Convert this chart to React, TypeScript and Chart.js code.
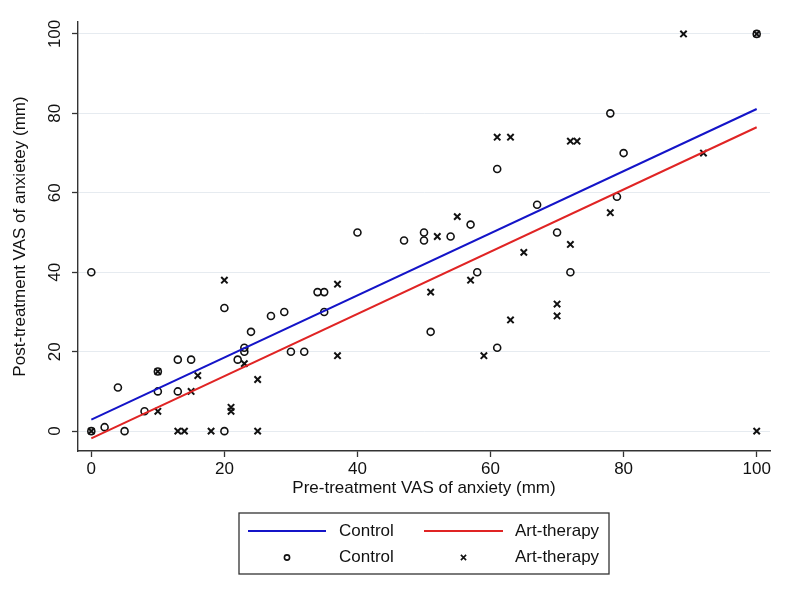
import React, { useEffect, useRef } from "react";
import { Chart, registerables } from "chart.js";

Chart.register(...registerables);

// ---- data ----
const controlX = [0, 0, 2, 4, 5, 8, 10, 10, 13, 13, 15, 20, 20, 22, 23, 23, 24, 27, 29, 30, 32, 34, 35, 35, 40, 47, 50, 50, 51, 54, 57, 58, 61, 61, 67, 70, 72, 78, 79, 80, 100];
const controlY = [0, 40, 1, 11, 0, 5, 10, 15, 10, 18, 18, 0, 31, 18, 20, 21, 25, 29, 30, 20, 20, 35, 35, 30, 50, 48, 50, 48, 25, 49, 52, 40, 21, 66, 57, 50, 40, 80, 59, 70, 100];

const artX = [0, 10, 10, 13, 14, 15, 16, 18, 20, 21, 21, 23, 25, 25, 37, 37, 51, 52, 55, 57, 59, 61, 63, 63, 65, 70, 70, 72, 73, 72, 78, 89, 92, 100, 100];
const artY = [0, 15, 5, 0, 0, 10, 14, 0, 38, 6, 5, 17, 13, 0, 37, 19, 35, 49, 54, 38, 19, 74, 74, 28, 45, 32, 29, 73, 73, 47, 55, 100, 70, 0, 100];

// fitted lines (end points)
const fitX = [0, 100];
const controlFit = [2.9, 81.1];
const artFit = [-1.8, 76.5];

const tickValues = [0, 20, 40, 60, 80, 100];

const xTitle = "Pre-treatment VAS of anxiety (mm)";
const yTitle = "Post-treatment VAS of anxietey (mm)";
const seriesNames = ["Control", "Art-therapy"];

const BLUE = "#1414c8";
const RED = "#e02424";
const FONT = "'Liberation Sans', Arial, sans-serif";
const FSIZE = 17;

const toPts = (xs: number[], ys: number[]) => xs.map((x, i) => ({ x, y: ys[i] }));

const legendPlugin = {
  id: "boxLegend",
  afterDraw(chart: any) {
    const ctx = chart.ctx;
    const left = 239, right = 609, top = 513, bottom = 574;
    ctx.save();
    ctx.strokeStyle = "#333";
    ctx.lineWidth = 1.3;
    ctx.strokeRect(left, top, right - left, bottom - top);
    const row1 = 531, row2 = 557.5;
    const cols = [
      { l0: 248, l1: 326, tx: 339, color: BLUE },
      { l0: 424, l1: 503, tx: 515, color: RED },
    ];
    ctx.font = `${FSIZE}px ${FONT}`;
    ctx.fillStyle = "#111";
    ctx.textBaseline = "middle";
    ctx.textAlign = "left";
    cols.forEach((c, i) => {
      ctx.strokeStyle = c.color;
      ctx.lineWidth = 2;
      ctx.beginPath();
      ctx.moveTo(c.l0, row1);
      ctx.lineTo(c.l1, row1);
      ctx.stroke();
      ctx.fillText(seriesNames[i], c.tx, row1);
      ctx.fillText(seriesNames[i], c.tx, row2);
      const cx = (c.l0 + c.l1) / 2;
      ctx.strokeStyle = "#111";
      ctx.lineWidth = 1.6;
      ctx.beginPath();
      if (i === 0) {
        ctx.arc(cx, row2, 2.6, 0, Math.PI * 2);
      } else {
        ctx.moveTo(cx - 2.6, row2 - 2.6);
        ctx.lineTo(cx + 2.6, row2 + 2.6);
        ctx.moveTo(cx + 2.6, row2 - 2.6);
        ctx.lineTo(cx - 2.6, row2 + 2.6);
      }
      ctx.stroke();
    });
    ctx.restore();
  },
};

export default function App() {
  const ref = useRef<HTMLCanvasElement | null>(null);

  useEffect(() => {
    if (!ref.current) return;
    const chart = new Chart(ref.current, {
      type: "scatter",
      data: {
        datasets: [
          {
            type: "line",
            label: "Control fit",
            data: toPts(fitX, controlFit),
            borderColor: BLUE,
            borderWidth: 2,
            pointRadius: 0,
            fill: false,
          } as any,
          {
            type: "line",
            label: "Art-therapy fit",
            data: toPts(fitX, artFit),
            borderColor: RED,
            borderWidth: 2,
            pointRadius: 0,
            fill: false,
          } as any,
          {
            label: "Control",
            data: toPts(controlX, controlY),
            pointStyle: "circle",
            pointRadius: 3.5,
            borderColor: "#111",
            backgroundColor: "rgba(0,0,0,0)",
            pointBorderWidth: 1.6,
          },
          {
            label: "Art-therapy",
            data: toPts(artX, artY),
            pointStyle: "crossRot",
            pointRadius: 4.5,
            borderColor: "#111",
            backgroundColor: "#111",
            pointBorderWidth: 2,
          },
        ],
      },
      options: {
        animation: false,
        responsive: true,
        maintainAspectRatio: false,
        layout: { padding: { left: 0, top: 22, right: 24, bottom: 100 } },
        plugins: {
          legend: { display: false },
          tooltip: { enabled: false },
        },
        scales: {
          x: {
            type: "linear",
            min: -2,
            max: 102,
            afterBuildTicks: (s: any) => {
              s.ticks = tickValues.map((v) => ({ value: v }));
            },
            afterFit: (s: any) => {
              s.height = 54;
            },
            grid: {
              drawOnChartArea: false,
              drawTicks: true,
              tickLength: 6,
              tickColor: "#333",
              tickWidth: 1.3,
            },
            border: { display: true, color: "#333", width: 1.4 },
            ticks: {
              color: "#111",
              padding: 2,
              font: { family: FONT, size: FSIZE },
              maxRotation: 0,
              minRotation: 0,
            },
            title: {
              display: true,
              text: xTitle,
              color: "#111",
              font: { family: FONT, size: FSIZE },
              padding: { top: 0, bottom: 6 },
            },
          },
          y: {
            type: "linear",
            min: -5,
            max: 103,
            afterBuildTicks: (s: any) => {
              s.ticks = tickValues.map((v) => ({ value: v }));
            },
            afterFit: (s: any) => {
              s.width = 78;
            },
            grid: {
              color: "#e6ebf0",
              lineWidth: 1,
              drawTicks: true,
              tickLength: 6,
              tickColor: "#333",
              tickWidth: 1.3,
            },
            border: { display: true, color: "#333", width: 1.4 },
            ticks: {
              color: "#111",
              padding: 3,
              crossAlign: "center",
              minRotation: 90,
              maxRotation: 90,
              font: { family: FONT, size: FSIZE },
            },
            title: {
              display: true,
              text: yTitle,
              color: "#111",
              font: { family: FONT, size: FSIZE },
              padding: { top: 10, bottom: 0 },
            },
          },
        },
      } as any,
      plugins: [legendPlugin],
    });
    return () => chart.destroy();
  }, []);

  return (
    <div style={{ position: "absolute", left: 0, top: 0, width: 794, height: 605, background: "#fff" }}>
      <canvas ref={ref} />
    </div>
  );
}
